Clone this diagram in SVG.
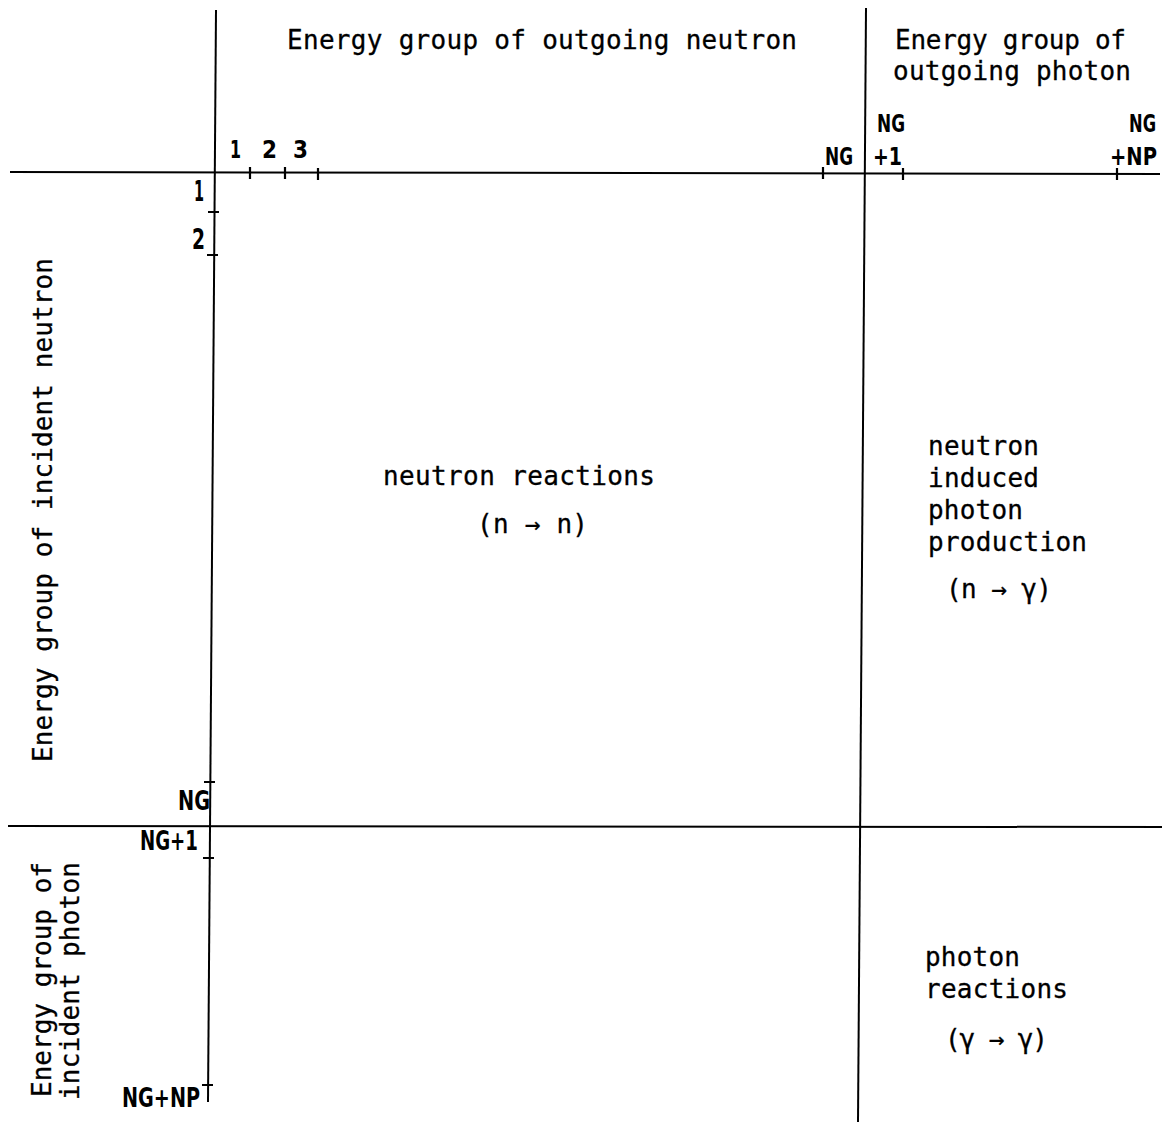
<svg xmlns="http://www.w3.org/2000/svg" width="1162" height="1129" viewBox="0 0 1162 1129">
<style>
.ln{stroke:#000;stroke-width:2;fill:none}
.tk{stroke:#000;stroke-width:2.2;fill:none}
.t{font-family:"DejaVu Sans Mono","Liberation Mono",monospace;font-size:26px;fill:#000;stroke:#000;stroke-width:0.3}
.n{font-family:"DejaVu Sans Condensed","DejaVu Sans",sans-serif;font-weight:bold;font-size:24px;fill:#000}
</style>
<rect width="1162" height="1129" fill="#fff"/>
<g id="axes">
<line class="ln" x1="216" y1="10" x2="208" y2="1102"/>
<line class="ln" x1="866" y1="8" x2="858" y2="1122"/>
<line class="ln" x1="10" y1="172" x2="1160" y2="174"/>
<line class="ln" x1="8" y1="826" x2="1162" y2="827"/>
</g>
<g id="ticks">
<path class="tk" d="M250 167V179M285 167V179M318 168V180M823 167V179M903 168V180M1117 168V180"/>
<path class="tk" d="M208 212H219M207 255H218M204 782H215M203 858H214M202 1085H213"/>
</g>
<g id="tick-labels">
<text class="n" x="230" y="158" textLength="11" lengthAdjust="spacingAndGlyphs" style="font-size:25px">1</text>
<text class="n" x="262" y="158" textLength="15" lengthAdjust="spacingAndGlyphs" style="font-size:25px">2</text>
<text class="n" x="293" y="158" textLength="15" lengthAdjust="spacingAndGlyphs" style="font-size:25px">3</text>
<text class="n" x="825" y="165" textLength="28" lengthAdjust="spacingAndGlyphs">NG</text>
<text class="n" x="877" y="132" textLength="28" lengthAdjust="spacingAndGlyphs">NG</text>
<text class="n" x="873" y="165" textLength="29" lengthAdjust="spacingAndGlyphs">+1</text>
<text class="n" x="1129" y="132" textLength="27" lengthAdjust="spacingAndGlyphs">NG</text>
<text class="n" x="1110" y="165" textLength="47" lengthAdjust="spacingAndGlyphs">+NP</text>
<text class="n" x="194" y="201" textLength="10" lengthAdjust="spacingAndGlyphs" style="font-size:28px">1</text>
<text class="n" x="192" y="249" textLength="13" lengthAdjust="spacingAndGlyphs" style="font-size:28px">2</text>
<text class="n" x="178" y="810" textLength="32" lengthAdjust="spacingAndGlyphs" style="font-size:27px">NG</text>
<text class="n" x="140" y="850" textLength="58" lengthAdjust="spacingAndGlyphs" style="font-size:27px">NG+1</text>
<text class="n" x="122" y="1107" textLength="78" lengthAdjust="spacingAndGlyphs" style="font-size:27px">NG+NP</text>
</g>
<g id="headers">
<text class="t" x="287" y="49" textLength="510" lengthAdjust="spacing">Energy group of outgoing neutron</text>
<text class="t" x="895" y="49" textLength="231" lengthAdjust="spacing">Energy group of</text>
<text class="t" x="893" y="80" textLength="238" lengthAdjust="spacing">outgoing photon</text>
<text class="t" transform="translate(52,762) rotate(-90)" x="0" y="0" textLength="504" lengthAdjust="spacing">Energy group of incident neutron</text>
<text class="t" transform="translate(51,1097) rotate(-90)" x="0" y="0" textLength="235" lengthAdjust="spacing">Energy group of</text>
<text class="t" transform="translate(79,1100) rotate(-90)" x="0" y="0" textLength="238" lengthAdjust="spacing">incident photon</text>
</g>
<g id="node-nn">
<text class="t" x="383" y="485" textLength="272" lengthAdjust="spacing">neutron reactions</text>
<text class="t" x="477" y="533" textLength="111" lengthAdjust="spacing">(n → n)</text>
</g>
<g id="node-ng">
<text class="t" x="928" y="455" textLength="111" lengthAdjust="spacing">neutron</text>
<text class="t" x="928" y="487" textLength="111" lengthAdjust="spacing">induced</text>
<text class="t" x="928" y="519" textLength="95" lengthAdjust="spacing">photon</text>
<text class="t" x="928" y="551" textLength="159" lengthAdjust="spacing">production</text>
<text class="t" x="946" y="598" textLength="106" lengthAdjust="spacing">(n → γ)</text>
</g>
<g id="node-gg">
<text class="t" x="925" y="966" textLength="95" lengthAdjust="spacing">photon</text>
<text class="t" x="925" y="998" textLength="143" lengthAdjust="spacing">reactions</text>
<text class="t" x="945" y="1048" textLength="103" lengthAdjust="spacing">(γ → γ)</text>
</g>
</svg>
